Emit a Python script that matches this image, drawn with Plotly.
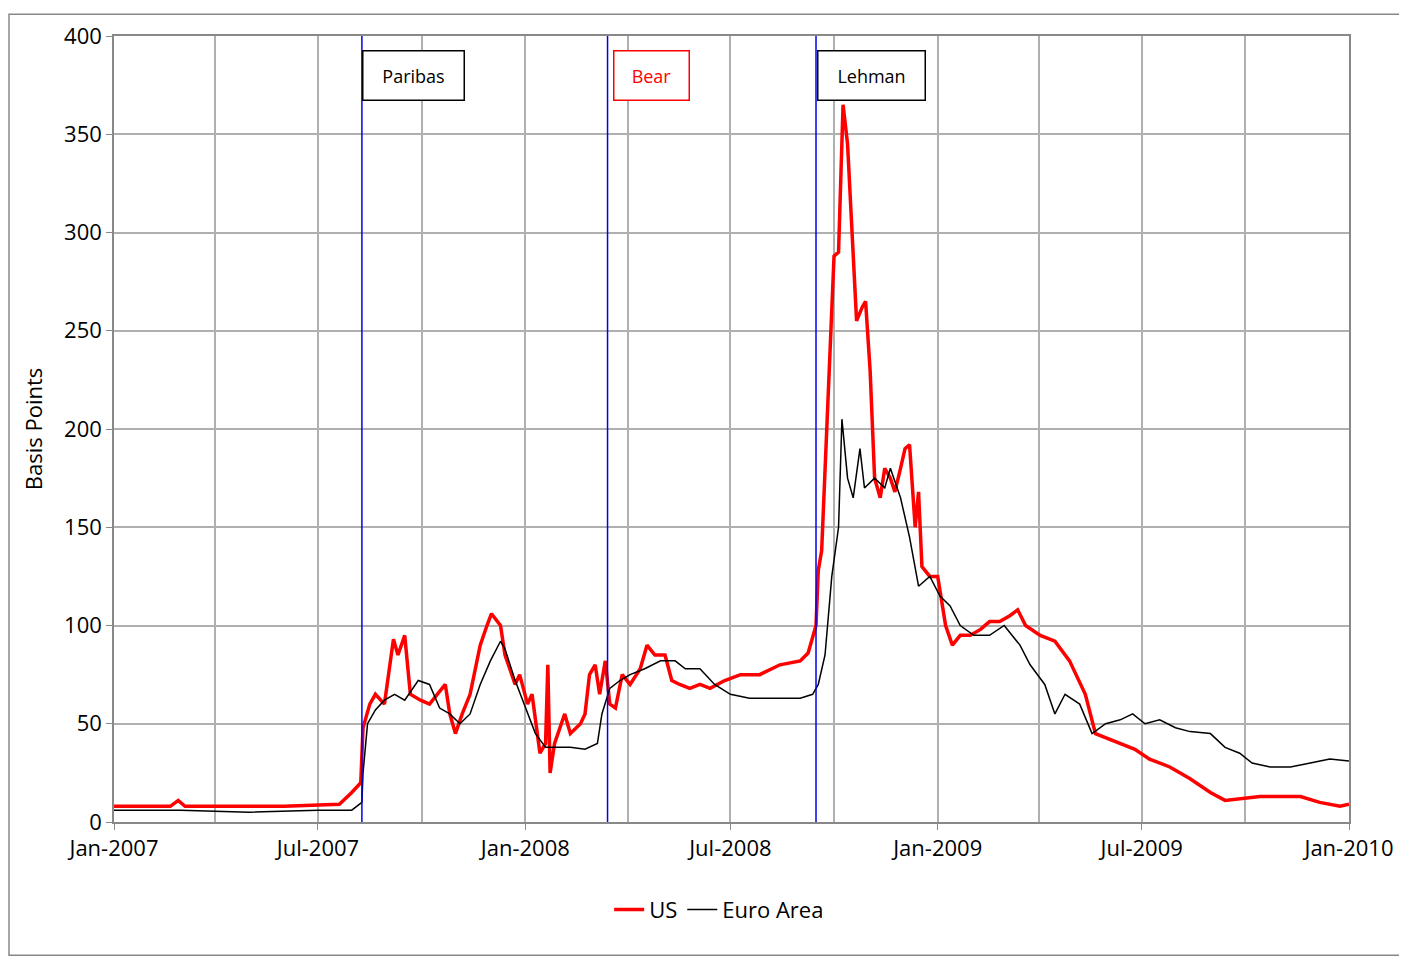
import plotly.graph_objects as go

us_dates = ["2007-01-01", "2007-02-20", "2007-02-27", "2007-03-05", "2007-06-01", "2007-07-20", "2007-07-31",
            "2007-08-08", "2007-08-10", "2007-08-16", "2007-08-21", "2007-08-29", "2007-09-06", "2007-09-10",
            "2007-09-16", "2007-09-21", "2007-09-30", "2007-10-08", "2007-10-22", "2007-10-26", "2007-10-31",
            "2007-11-06", "2007-11-13", "2007-11-22", "2007-11-28", "2007-12-02", "2007-12-10", "2007-12-14",
            "2007-12-23", "2007-12-27", "2008-01-03", "2008-01-07", "2008-01-14", "2008-01-19", "2008-01-21",
            "2008-01-23", "2008-01-27", "2008-02-05", "2008-02-10", "2008-02-19", "2008-02-23", "2008-02-27",
            "2008-03-03", "2008-03-07", "2008-03-12", "2008-03-16", "2008-03-21", "2008-03-27", "2008-04-03",
            "2008-04-12", "2008-04-18", "2008-04-25", "2008-05-04", "2008-05-10", "2008-05-17", "2008-05-26",
            "2008-06-04", "2008-06-13", "2008-06-26", "2008-07-10", "2008-07-27", "2008-08-14", "2008-09-01",
            "2008-09-08", "2008-09-15", "2008-09-17", "2008-09-20", "2008-09-24", "2008-09-27", "2008-10-01",
            "2008-10-05", "2008-10-09", "2008-10-13", "2008-10-17", "2008-10-21", "2008-10-26", "2008-10-29",
            "2008-11-02", "2008-11-06", "2008-11-11", "2008-11-15", "2008-11-20", "2008-11-24", "2008-11-29",
            "2008-12-03", "2008-12-07", "2008-12-12", "2008-12-15", "2008-12-18", "2008-12-25", "2009-01-01",
            "2009-01-08", "2009-01-14", "2009-01-21", "2009-01-30", "2009-02-08", "2009-02-16", "2009-02-25",
            "2009-03-06", "2009-03-13", "2009-03-20", "2009-04-02", "2009-04-15", "2009-04-28", "2009-05-12",
            "2009-05-21", "2009-06-03", "2009-06-12", "2009-06-25", "2009-07-08", "2009-07-26", "2009-08-13",
            "2009-08-31", "2009-09-13", "2009-09-26", "2009-10-14", "2009-11-01", "2009-11-19", "2009-12-06",
            "2009-12-24", "2010-01-01"]
us_values = [8, 8, 11, 8, 8, 9, 15,
             20, 48, 60, 65, 60, 93, 85,
             95, 65, 62, 60, 70, 55, 45,
             55, 65, 90, 100, 106, 100, 85,
             70, 75, 60, 65, 35, 40, 80,
             25, 40, 55, 45, 50, 55, 75,
             80, 65, 82, 60, 58, 75, 70,
             78, 90, 85, 85, 72, 70, 68,
             70, 68, 72, 75, 75, 80, 82,
             86, 100, 128, 138, 195, 230, 288,
             290, 365, 345, 300, 255, 262, 265,
             230, 175, 165, 180, 175, 168, 180,
             190, 192, 150, 168, 130, 125, 125,
             100, 90, 95, 95, 98, 102, 102,
             105, 108, 100, 95, 92, 82, 65,
             45, 42, 40, 37, 32, 28, 22,
             15, 11, 12, 13, 13, 13, 10,
             8, 9]

eu_dates = ["2007-01-01", "2007-03-01", "2007-05-01", "2007-07-01", "2007-07-31", "2007-08-09", "2007-08-10",
            "2007-08-14", "2007-08-21", "2007-08-29", "2007-09-07", "2007-09-16", "2007-09-28", "2007-10-08",
            "2007-10-17", "2007-10-26", "2007-11-04", "2007-11-13", "2007-11-22", "2007-12-01", "2007-12-10",
            "2007-12-14", "2007-12-23", "2008-01-01", "2008-01-10", "2008-01-19", "2008-01-27", "2008-02-10",
            "2008-02-23", "2008-03-05", "2008-03-09", "2008-03-16", "2008-03-25", "2008-04-03", "2008-04-16",
            "2008-04-30", "2008-05-13", "2008-05-22", "2008-06-04", "2008-06-17", "2008-07-01", "2008-07-18",
            "2008-08-14", "2008-09-01", "2008-09-12", "2008-09-17", "2008-09-23", "2008-09-29", "2008-10-05",
            "2008-10-08", "2008-10-13", "2008-10-18", "2008-10-24", "2008-10-28", "2008-11-06", "2008-11-15",
            "2008-11-20", "2008-11-29", "2008-12-07", "2008-12-15", "2008-12-25", "2009-01-03", "2009-01-12",
            "2009-01-21", "2009-02-02", "2009-02-16", "2009-03-01", "2009-03-15", "2009-03-24", "2009-04-06",
            "2009-04-15", "2009-04-24", "2009-05-07", "2009-05-18", "2009-05-30", "2009-06-12", "2009-06-23",
            "2009-07-04", "2009-07-17", "2009-07-31", "2009-08-13", "2009-08-31", "2009-09-13", "2009-09-26",
            "2009-10-07", "2009-10-23", "2009-11-10", "2009-11-27", "2009-12-15", "2010-01-01"]
eu_values = [6, 6, 5, 6, 6, 10, 25,
             50, 57, 62, 65, 62, 72, 70,
             58, 55, 50, 55, 70, 82, 92,
             88, 72, 58, 45, 38, 38, 38,
             37, 40, 55, 68, 72, 75, 78,
             82, 82, 78, 78, 70, 65, 63,
             63, 63, 65, 70, 85, 125, 150,
             205, 175, 165, 190, 170, 175, 170,
             180, 165, 145, 120, 125, 115, 110,
             100, 95, 95, 100, 90, 80, 70,
             55, 65, 60, 45, 50, 52, 55,
             50, 52, 48, 46, 45, 38, 35,
             30, 28, 28, 30, 32, 31]

events = ["Paribas", "Bear", "Lehman"]
event_dates = ["2007-08-09", "2008-03-14", "2008-09-15"]
label_dates = ["2007-09-24", "2008-04-22", "2008-11-03"]
label_colors = ["black", "red", "black"]
label_widths = [76, 50, 82]

fig = go.Figure()
fig.add_trace(go.Scatter(x=us_dates, y=us_values, name="US", mode="lines",
                         line=dict(color="#ff0000", width=3.5)))
fig.add_trace(go.Scatter(x=eu_dates, y=eu_values, name="Euro Area", mode="lines",
                         line=dict(color="black", width=1.5)))

for ev, d, ld, c, w in zip(events, event_dates, label_dates, label_colors, label_widths):
    fig.add_shape(type="line", x0=d, x1=d, y0=0, y1=400, xref="x", yref="y",
                  line=dict(color="#0000ee", width=1.5))
    fig.add_annotation(x=ld, y=380, text=ev, showarrow=False, font=dict(size=18, color=c),
                       bordercolor=c, borderwidth=1.5, borderpad=12, bgcolor="white", width=w)

# outer frame (page has an 8px body margin)
fig.add_shape(type="rect", xref="paper", yref="paper",
              x0=-105 / 1235, x1=1 + 56 / 1235, y0=-134 / 791, y1=1 + 22 / 791,
              line=dict(color="#888888", width=1.5))

fig.update_layout(
    width=1407, height=958,
    margin=dict(l=106, r=66, t=23, b=144),
    plot_bgcolor="white", paper_bgcolor="white",
    font=dict(family="Open Sans, Liberation Sans", size=22, color="black"),
    showlegend=True,
    legend=dict(orientation="h", x=0.49, xanchor="center", y=-0.085, yanchor="top",
                font=dict(size=22)),
    xaxis=dict(range=["2007-01-01", "2010-01-01"], dtick="M6", tick0="2007-01-01",
               tickformat="%b-%Y", showgrid=True, gridcolor="#b0b0b0", gridwidth=1.5,
               minor=dict(dtick="M3", showgrid=True, gridcolor="#b0b0b0", gridwidth=1.5),
               ticks="outside", ticklen=6, tickcolor="#888888",
               showline=True, linecolor="#888888", linewidth=1.5, mirror=True, zeroline=False),
    yaxis=dict(range=[0, 400], dtick=50, showgrid=True, gridcolor="#b0b0b0", gridwidth=1.5,
               ticks="outside", ticklen=6, tickcolor="#888888",
               title=dict(text="Basis Points", font=dict(size=22), standoff=15),
               showline=True, linecolor="#888888", linewidth=1.5, mirror=True, zeroline=False),
)

fig.write_html("out.html")
